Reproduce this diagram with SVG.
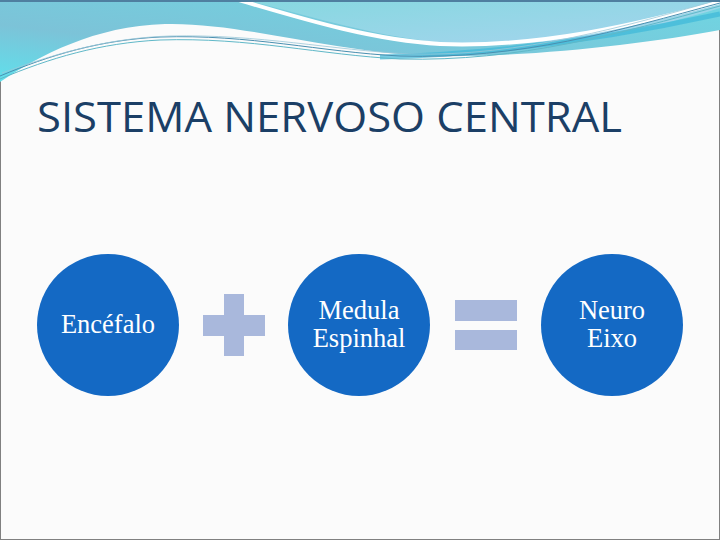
<svg xmlns="http://www.w3.org/2000/svg" width="720" height="540" viewBox="0 0 720 540">
<defs>
<linearGradient id="gA" x1="0" y1="1" x2="1" y2="0">
<stop offset="0" stop-color="#5FE0EC"/>
<stop offset="0.35" stop-color="#7CC3D8"/>
<stop offset="1" stop-color="#6FD6E2"/>
</linearGradient>
<linearGradient id="gB" x1="0" y1="0" x2="1" y2="1">
<stop offset="0" stop-color="#86D8E0"/>
<stop offset="1" stop-color="#A6D4EE"/>
</linearGradient>
<style>
.node circle{fill:#1469C4}
.lbl{font-family:"Liberation Serif","DejaVu Serif",serif;font-size:26.5px;fill:#FFFFFF;text-anchor:middle}
.op{fill:#A9B8DC}
</style>
</defs>
<rect x="0" y="0" width="720" height="540" fill="#FBFBFB"/>
<rect x="0.5" y="0.5" width="719" height="539" fill="none" stroke="#808080" stroke-width="1"/>
<g id="header">
<path d="M0,0 H720 V30 C640,45 520,58 430,56 C330,52 240,22 165,24 C95,26 40,55 0,82 Z" fill="url(#gA)"/>
<path d="M245,0 H720 V8 C650,30 560,46 470,44 C390,42 320,18 245,0 Z" fill="url(#gB)"/>
<path d="M232,-2 C300,18 370,40 440,44 C540,48 640,24 720,2" fill="none" stroke="#FFFFFF" stroke-width="4"/>
<path d="M380,57 C500,54 620,36 720,14" fill="none" stroke="#3DB8D8" stroke-width="5" opacity="0.7"/>
<path d="M0,76 C50,55 100,40 160,37 C250,34 320,52 400,56 C520,60 620,30 720,3" fill="none" stroke="#4A8FB0" stroke-width="1"/>
<path d="M0,79 C50,58 100,43 160,40 C250,37 320,55 400,59 C520,62 620,33 720,6" fill="none" stroke="#60B8C8" stroke-width="1"/>
<path d="M2,73 C60,52 110,38 170,36 C260,34 330,50 410,54 C520,57 630,25 718,0" fill="none" stroke="#9BC8D8" stroke-width="0.8"/>
<rect x="0" y="0" width="720" height="2" fill="#4F7FA0"/>
</g>
<text x="37" y="132" font-family="'Open Sans','Liberation Sans',sans-serif" font-size="42" fill="#1B3F66" textLength="585" lengthAdjust="spacingAndGlyphs">SISTEMA NERVOSO CENTRAL</text>
<g id="encefalo" class="node">
<circle cx="108" cy="325" r="71"/>
<text class="lbl" x="108" y="333">Encéfalo</text>
</g>
<g id="plus">
<rect class="op" x="224" y="294" width="20" height="62"/>
<rect class="op" x="203" y="315" width="62" height="21"/>
</g>
<g id="medula" class="node">
<circle cx="359" cy="325" r="71"/>
<text class="lbl" x="359" y="319">Medula</text>
<text class="lbl" x="359" y="347">Espinhal</text>
</g>
<g id="equals">
<rect class="op" x="455" y="300" width="62" height="21"/>
<rect class="op" x="455" y="330" width="62" height="20"/>
</g>
<g id="neuroeixo" class="node">
<circle cx="612" cy="325" r="71"/>
<text class="lbl" x="612" y="319">Neuro</text>
<text class="lbl" x="612" y="347">Eixo</text>
</g>
<g id="connectors"/>
</svg>
